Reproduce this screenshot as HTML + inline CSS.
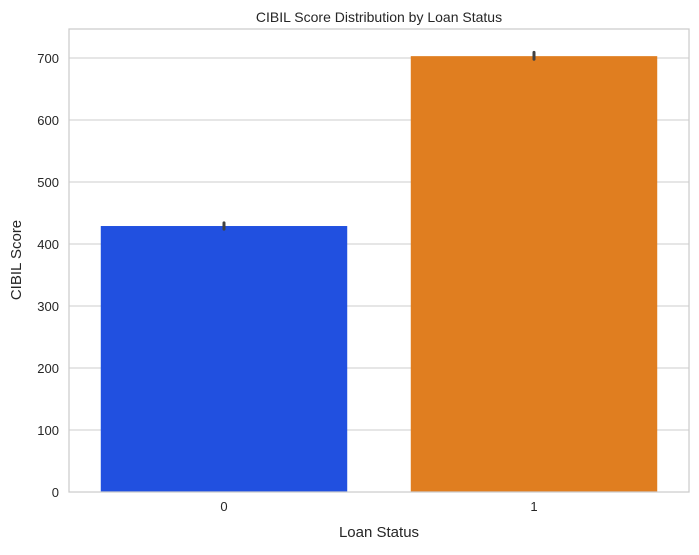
<!DOCTYPE html>
<html><head><meta charset="utf-8"><style>
body{margin:0;background:#fff;font-family:"Liberation Sans",Arial,sans-serif;}
svg text{font-family:"Liberation Sans",Arial,sans-serif;fill:#262626;}
</style></head><body>
<svg id="chart" width="699" height="550" xmlns="http://www.w3.org/2000/svg">
<rect width="699" height="550" fill="#fff"/>
<g id="grid"></g><g id="bars"></g><g id="ticks"></g>
<rect x="69" y="29" width="620" height="463" fill="none" stroke="#cccccc" stroke-width="1.25"/>
<text x="379" y="22" text-anchor="middle" font-size="14">CIBIL Score Distribution by Loan Status</text>
<text x="379" y="537" text-anchor="middle" font-size="15">Loan Status</text>
<text transform="translate(21,260) rotate(-90)" text-anchor="middle" font-size="15">CIBIL Score</text>
</svg>
<script>
const categories = ["0", "1"];
const means = [429, 703];
const errLow = [424, 698];
const errHigh = [434, 709];
const yTicks = [0, 100, 200, 300, 400, 500, 600, 700];
const colors = ["#2150e0", "#e07e20"];
const NS = "http://www.w3.org/2000/svg";
const left = 69, right = 689, y0 = 492, ppu = 0.62;
const y = v => y0 - v * ppu;
const band = (right - left) / categories.length;
const xc = i => left + band * (i + 0.5);
const mk = (p, tag, attrs) => { const e = document.createElementNS(NS, tag); for (const k in attrs) e.setAttribute(k, attrs[k]); p.appendChild(e); return e; };
const grid = document.getElementById('grid'), bars = document.getElementById('bars'), ticks = document.getElementById('ticks');
yTicks.forEach(t => {
  const l = mk(grid, 'line', {x1: left, x2: right, y1: y(t), y2: y(t), stroke: '#cccccc', 'stroke-width': 1.1});
  
  
  const tx = mk(ticks, 'text', {x: left - 10, y: y(t) + 5, 'text-anchor': 'end', 'font-size': 13});
  tx.textContent = t;
  
  
});
categories.forEach((c, i) => {
  const w = band * 0.795;
  const r = mk(bars, 'rect', {x: xc(i) - w / 2, y: y(means[i]), width: w, height: y0 - y(means[i]), fill: colors[i]});
  
  
  const e = mk(bars, 'line', {x1: xc(i), x2: xc(i), y1: y(errLow[i]), y2: y(errHigh[i]), stroke: '#424242', 'stroke-width': 3, 'stroke-linecap': 'round'});
  
  
  const tx = mk(ticks, 'text', {x: xc(i), y: y0 + 19, 'text-anchor': 'middle', 'font-size': 13});
  tx.textContent = c;
  
  
});
</script>
</body></html>
